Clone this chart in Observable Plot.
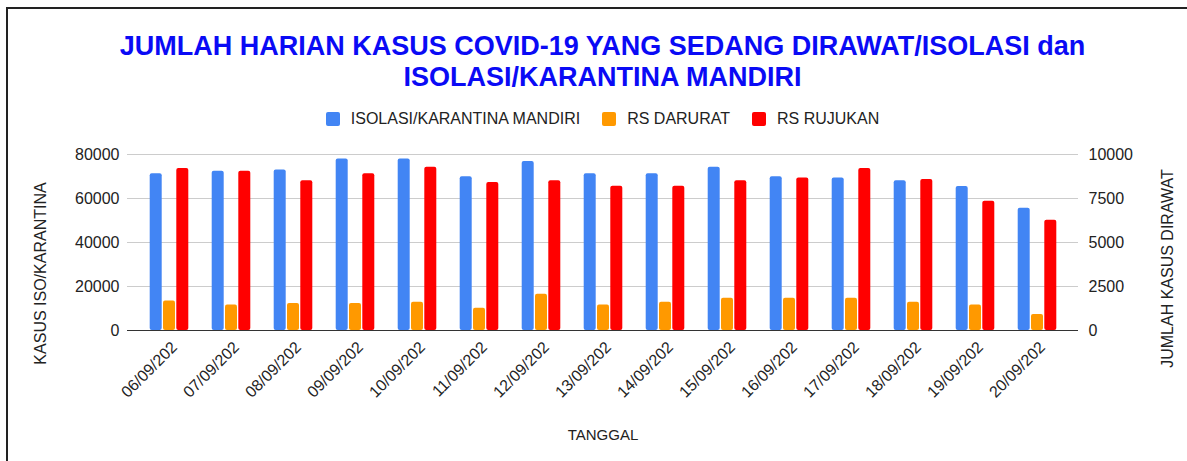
<!DOCTYPE html>
<html>
<head>
<meta charset="utf-8">
<script src="https://cdn.jsdelivr.net/npm/d3@7"></script>
<script src="https://cdn.jsdelivr.net/npm/@observablehq/plot@0.6"></script>
<style>
html, body { margin: 0; padding: 0; background: #fff; }
#wrap { position: relative; width: 1187px; height: 461px; overflow: hidden; font-family: "Liberation Sans", Arial, Helvetica, sans-serif; }
#border { position: absolute; left: 6px; top: 7px; width: 1300px; height: 600px; border-top: 2px solid #222; border-left: 2px solid #222; pointer-events: none; }
#header { position: relative; height: 140px; }
#title { position: absolute; left: 117px; width: 971px; top: 31px; text-align: center; font-weight: bold; font-size: 27px; line-height: 31px; color: #0a0af5; }
#legend { position: absolute; left: 127px; width: 951px; top: 110px; height: 18px; display: flex; justify-content: center; align-items: center; font-size: 16px; color: #222; }
.item { display: flex; align-items: center; margin: 0 11px; }
.sw { width: 14px; height: 14px; border-radius: 2px; margin-right: 11px; }
#chart svg { display: block; }
</style>
</head>
<body>
<div id="wrap">
  <div id="header">
    <div id="title">JUMLAH HARIAN KASUS COVID-19 YANG SEDANG DIRAWAT/ISOLASI dan<br>ISOLASI/KARANTINA MANDIRI</div>
    <div id="legend"></div>
  </div>
  <div id="chart"></div>
  <div id="border"></div>
</div>
<script>
// ---- data ----
const dates = ["06/09/202", "07/09/202", "08/09/202", "09/09/202", "10/09/202", "11/09/202", "12/09/202", "13/09/202", "14/09/202", "15/09/202", "16/09/202", "17/09/202", "18/09/202", "19/09/202", "20/09/202"];
const isolasiMandiri = [71200, 72400, 73000, 77900, 77900, 69900, 76800, 71200, 71200, 74200, 69900, 69300, 68100, 65500, 55600];
const rsDarurat = [1680, 1450, 1530, 1530, 1600, 1270, 2060, 1450, 1600, 1830, 1830, 1830, 1600, 1450, 910];
const rsRujukan = [9200, 9050, 8510, 8900, 9280, 8410, 8510, 8190, 8190, 8510, 8660, 9200, 8580, 7340, 6270];
const seriesNames = ["ISOLASI/KARANTINA MANDIRI", "RS DARURAT", "RS RUJUKAN"];
const seriesColors = ["#4285f4", "#ff9900", "#ff0000"];
const leftTicks = [0, 20000, 40000, 60000, 80000];
const rightTicks = [0, 2500, 5000, 7500, 10000];
const leftMax = 80000, rightMax = 10000;
const titleLeft = "KASUS ISO/KARANTINA";
const titleRight = "JUMLAH KASUS DIRAWAT";
const titleBottom = "TANGGAL";

// ---- legend ----
const legend = document.getElementById("legend");
seriesNames.forEach((name, i) => {
  const it = document.createElement("div");
  it.className = "item";
  const sw = document.createElement("span");
  sw.className = "sw";
  sw.style.background = seriesColors[i];
  const tx = document.createElement("span");
  tx.textContent = name;
  it.appendChild(sw); it.appendChild(tx);
  legend.appendChild(it);
});

// ---- chart ----
const ratio = leftMax / rightMax;
const rows = dates.map((date, i) => ({date, iso: isolasiMandiri[i], dar: rsDarurat[i], ruj: rsRujukan[i]}));
const band = 62, barW = 12, gap = 1.3;
const off = (band - (3 * barW + 2 * gap)) / 2;
const pos = k => ({insetLeft: off + k * (barW + gap), insetRight: band - (off + k * (barW + gap) + barW)});

const chart = Plot.plot({
  width: 1187,
  height: 321,
  marginTop: 14,
  marginBottom: 131,
  marginLeft: 127,
  marginRight: 109,
  style: {fontFamily: "'Liberation Sans', Arial, sans-serif", fontSize: "16px", color: "#222", background: "transparent"},
  x: {type: "band", domain: dates, padding: 0, insetLeft: 10.5, insetRight: 10.5},
  y: {domain: [0, leftMax]},
  marks: [
    Plot.ruleY(leftTicks.filter(d => d > 0), {stroke: "#cccccc", strokeWidth: 1}),
    Plot.barY(rows, {x: "date", y: "iso", fill: seriesColors[0], rx: 2, ...pos(0)}),
    Plot.barY(rows, {x: "date", y: d => d.dar * ratio, fill: seriesColors[1], rx: 2, ...pos(1)}),
    Plot.barY(rows, {x: "date", y: d => d.ruj * ratio, fill: seriesColors[2], rx: 2, ...pos(2)}),
    Plot.ruleY([0], {stroke: "#333", strokeWidth: 1.2}),
    Plot.axisY(leftTicks, {anchor: "left", tickSize: 0, tickPadding: 8, tickFormat: d3.format("d"), label: null, fontSize: 16}),
    Plot.axisY(rightTicks.map(d => d * ratio), {anchor: "right", tickSize: 0, tickPadding: 10, tickFormat: d => d3.format("d")(d / ratio), label: null, fontSize: 16}),
    Plot.axisX({tickRotate: -45, tickSize: 0, tickPadding: 14, dx: 5, label: null, fontSize: 16}),
    Plot.text([titleLeft], {frameAnchor: "left", textAnchor: "middle", rotate: -90, dx: -87, dy: 31, fontSize: 16, fill: "#222"}),
    Plot.text([titleRight], {frameAnchor: "right", textAnchor: "middle", rotate: -90, dx: 89, dy: 26, fontSize: 16, fill: "#222"}),
    Plot.text([titleBottom], {frameAnchor: "bottom", dy: 109, fontSize: 15, fill: "#222"})
  ]
});
document.getElementById("chart").appendChild(chart);
</script>
</body>
</html>
